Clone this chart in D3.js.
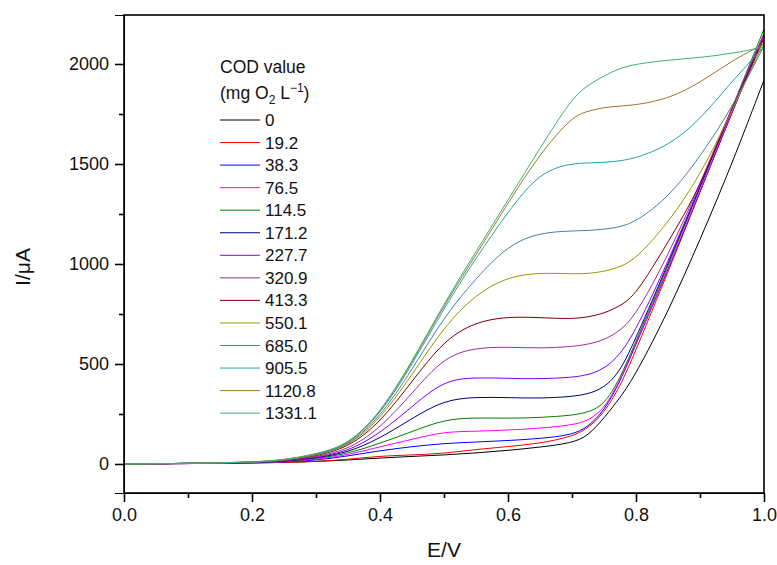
<!DOCTYPE html>
<html>
<head>
<meta charset="utf-8">
<script src="https://cdn.jsdelivr.net/npm/d3@7"></script>
<style>
  body { margin: 0; background: #fff; }
  svg { font-family: "Liberation Sans", Arial, sans-serif; }
</style>
</head>
<body>
<div class="chart"></div>
<script>
// potential (V) where each curve was read
const potential = [0, 0.1, 0.2, 0.25, 0.3, 0.35, 0.4, 0.45, 0.5, 0.55, 0.6, 0.65, 0.7, 0.725, 0.75, 0.775, 0.8, 0.85, 0.9, 0.95, 1.0];

// COD values (legend labels)
const codLabels = ["0", "19.2", "38.3", "76.5", "114.5", "171.2", "227.7", "320.9", "413.3", "550.1", "685.0", "905.5", "1120.8", "1331.1"];

// current (uA) for each COD value
const cod0    = [0, 2, 5, 8, 12, 20, 30, 38, 45, 55, 68, 84, 105, 140, 230, 330, 450, 760, 1120, 1500, 1920];
const cod19   = [0, 2, 5, 8, 12, 23, 40, 45, 53, 73, 87, 103, 137, 178, 255, 385, 570, 960, 1360, 1760, 2130];
const cod38   = [0, 2, 6, 10, 18, 40, 67, 87, 103, 110, 117, 127, 145, 185, 265, 410, 600, 970, 1360, 1760, 2140];
const cod76   = [0, 2, 6, 10, 22, 45, 87, 123, 162, 163, 170, 178, 195, 215, 275, 415, 605, 975, 1365, 1765, 2140];
const cod114  = [0, 3, 7, 12, 26, 52, 103, 162, 223, 232, 228, 232, 243, 258, 295, 425, 615, 990, 1380, 1780, 2175];
const cod171  = [0, 3, 7, 13, 30, 57, 128, 228, 320, 335, 332, 328, 337, 350, 380, 460, 630, 1000, 1385, 1780, 2150];
const cod227  = [0, 3, 8, 14, 33, 62, 153, 287, 420, 433, 428, 425, 433, 445, 475, 545, 670, 1010, 1390, 1780, 2150];
const cod320  = [0, 3, 8, 15, 36, 70, 178, 353, 537, 582, 585, 578, 587, 598, 620, 665, 745, 1040, 1400, 1785, 2150];
const cod413  = [0, 3, 8, 16, 40, 81, 207, 412, 620, 712, 737, 732, 725, 735, 753, 790, 845, 1110, 1380, 1780, 2130];
const cod550  = [0, 3, 8, 17, 43, 85, 223, 445, 687, 850, 937, 957, 950, 952, 962, 985, 1025, 1205, 1440, 1765, 2110];
const cod685  = [0, 3, 8, 18, 45, 88, 233, 470, 737, 928, 1095, 1158, 1165, 1168, 1173, 1185, 1212, 1330, 1535, 1780, 2090];
const cod905  = [0, 3, 9, 19, 47, 92, 245, 495, 780, 1030, 1262, 1462, 1503, 1505, 1508, 1515, 1530, 1590, 1720, 1915, 2085];
const cod1120 = [0, 3, 9, 20, 48, 93, 250, 505, 795, 1045, 1305, 1553, 1737, 1765, 1783, 1790, 1795, 1825, 1905, 2018, 2100];
const cod1331 = [0, 3, 9, 20, 50, 95, 253, 512, 803, 1062, 1320, 1580, 1830, 1895, 1940, 1980, 2000, 2020, 2032, 2052, 2085];

const seriesValues = [cod0, cod19, cod38, cod76, cod114, cod171, cod227, cod320, cod413, cod550, cod685, cod905, cod1120, cod1331];

const xTicks = [0, 0.2, 0.4, 0.6, 0.8, 1.0];
const xMinor = [0.1, 0.3, 0.5, 0.7, 0.9];
const yTicks = [0, 500, 1000, 1500, 2000];
const yMinor = [250, 750, 1250, 1750];

const colors = ["#000000", "#ff0000", "#0000ff", "#ff00ff", "#008000", "#000080", "#8000ff",
                "#9b30a0", "#800000", "#999900", "#4a7fa8", "#2aa0a8", "#a0742c", "#3cb371"];

const W = 777, H = 565;
const margin = { top: 15, right: 13, bottom: 72, left: 124 };
const width = W - margin.left - margin.right;
const height = H - margin.top - margin.bottom;

const svg = d3.select(".chart").append("svg")
    .attr("width", W)
    .attr("height", H);
const g = svg.append("g")
    .attr("transform", `translate(${margin.left},${margin.top})`);

const xScale = d3.scaleLinear().domain([0, 1]).range([0, width]);
const yScale = d3.scaleLinear().domain([-145, 2245]).range([height, 0]);

// curves
const line = d3.line()
    .x(d => xScale(d.x))
    .y(d => yScale(d.y))
    .curve(d3.curveBasis);

g.append("clipPath").attr("id", "plotclip")
    .append("rect").attr("width", width).attr("height", height);

seriesValues.forEach((vals, i) => {
    const data = potential.map((e, j) => ({ x: e, y: vals[j] }));
    g.append("path")
        .datum(data)
        .attr("clip-path", "url(#plotclip)")
        .attr("d", line)
        .attr("fill", "none")
        .attr("stroke", colors[i])
        .attr("stroke-width", 1);
});

// x axis
g.append("g")
    .attr("transform", `translate(0,${height})`)
    .call(d3.axisBottom(xScale).tickValues(xTicks).tickFormat(d3.format(".1f")).tickSize(9).tickPadding(6));
g.append("g")
    .attr("transform", `translate(0,${height})`)
    .call(d3.axisBottom(xScale).tickValues(xMinor).tickFormat("").tickSize(5))
    .select(".domain").remove();

// y axis
g.append("g")
    .call(d3.axisLeft(yScale).tickValues(yTicks).tickFormat(d3.format("d")).tickSize(9).tickPadding(6));
g.append("g")
    .call(d3.axisLeft(yScale).tickValues(yMinor).tickFormat("").tickSize(5))
    .select(".domain").remove();

g.selectAll(".tick line").attr("stroke-width", 1.6);
g.selectAll(".tick text").style("font-size", "18px").attr("fill", "#111");

// frame
g.append("rect")
    .attr("width", width)
    .attr("height", height)
    .attr("fill", "none")
    .attr("stroke", "#000")
    .attr("stroke-width", 1.6);

// axis titles
svg.append("text")
    .attr("x", margin.left + width / 2)
    .attr("y", 557)
    .attr("text-anchor", "middle")
    .style("font-size", "21px")
    .attr("fill", "#111")
    .text("E/V");

svg.append("text")
    .attr("transform", "translate(30,267) rotate(-90)")
    .attr("text-anchor", "middle")
    .style("font-size", "21px")
    .attr("fill", "#111")
    .text("I/μA");

// legend
const legX = 220;
svg.append("text")
    .attr("x", legX).attr("y", 72.5)
    .style("font-size", "17.5px").attr("fill", "#111")
    .text("COD value");

const unit = svg.append("text")
    .attr("x", legX).attr("y", 99)
    .style("font-size", "17.5px").attr("fill", "#111");
unit.append("tspan").text("(mg O");
unit.append("tspan").attr("dy", 5).style("font-size", "12px").text("2");
unit.append("tspan").attr("dy", -5).text(" L");
unit.append("tspan").attr("dy", -7).style("font-size", "12px").text("−1");
unit.append("tspan").attr("dy", 7).text(")");

const legend = svg.selectAll(".lineLegend").data(codLabels)
    .enter().append("g")
    .attr("class", "lineLegend")
    .attr("transform", (d, i) => `translate(${legX},${120 + i * 22.55})`);

legend.append("line")
    .attr("x1", 0).attr("x2", 40)
    .attr("stroke", (d, i) => colors[i])
    .attr("stroke-width", 1);

legend.append("text")
    .attr("x", 45).attr("y", 6)
    .style("font-size", "17px").attr("fill", "#111")
    .text(d => d);
</script>
</body>
</html>
